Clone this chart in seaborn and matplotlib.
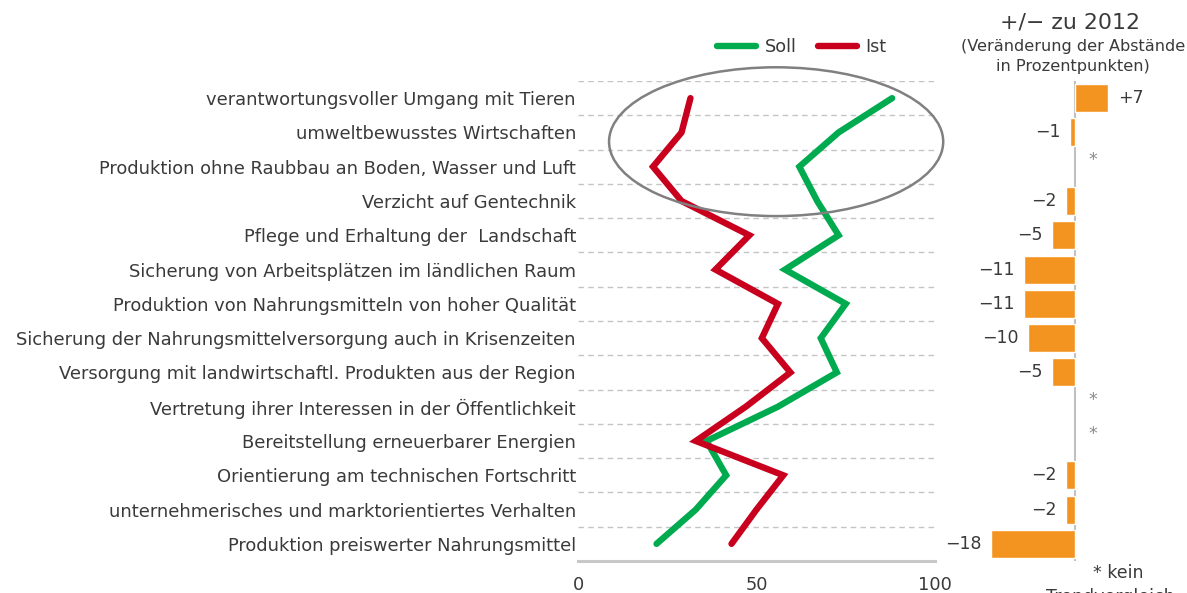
import numpy as np
import pandas as pd
import matplotlib
matplotlib.use("Agg")
import matplotlib.pyplot as plt
from matplotlib.patches import Ellipse
import seaborn as sns

categories = [
    "verantwortungsvoller Umgang mit Tieren",
    "umweltbewusstes Wirtschaften",
    "Produktion ohne Raubbau an Boden, Wasser und Luft",
    "Verzicht auf Gentechnik",
    "Pflege und Erhaltung der  Landschaft",
    "Sicherung von Arbeitsplätzen im ländlichen Raum",
    "Produktion von Nahrungsmitteln von hoher Qualität",
    "Sicherung der Nahrungsmittelversorgung auch in Krisenzeiten",
    "Versorgung mit landwirtschaftl. Produkten aus der Region",
    "Vertretung ihrer Interessen in der Öffentlichkeit",
    "Bereitstellung erneuerbarer Energien",
    "Orientierung am technischen Fortschritt",
    "unternehmerisches und marktorientiertes Verhalten",
    "Produktion preiswerter Nahrungsmittel",
]
soll = [88, 73, 62, 67, 73, 58, 75, 68, 72.5, 56, 36, 41.5, 33, 22]
ist = [31.5, 29, 21, 29, 48, 38.5, 56, 51.5, 59.5, 47, 33, 57.5, 50, 43]
change = [7, -1, np.nan, -2, -5, -11, -11, -10, -5, np.nan, np.nan, -2, -2, -18]
change_labels = ["+7", "\u22121", "*", "\u22122", "\u22125", "\u221211", "\u221211",
                 "\u221210", "\u22125", "*", "*", "\u22122", "\u22122", "\u221218"]
series_names = ["Soll", "Ist"]
xticks = [0, 50, 100]

GREEN = "#00AA4F"
RED = "#C8001E"
ORANGE = "#F39421"
TXT = "#3a3a3a"

sns.set_theme(style="white")
plt.rcParams["font.family"] = ["DejaVu Sans"]

W, H = 1187, 593
fig = plt.figure(figsize=(W / 100, H / 100), dpi=100)

def px_axes(x0, y0, x1, y1):
    return fig.add_axes([x0 / W, 1 - y1 / H, (x1 - x0) / W, (y1 - y0) / H])

n = len(categories)
pos = np.arange(n)

ax = px_axes(578, 81, 935, 561)
df = pd.DataFrame({
    "value": soll + ist,
    "pos": np.concatenate([pos, pos]),
    "series": [series_names[0]] * n + [series_names[1]] * n,
})
sns.lineplot(data=df, x="value", y="pos", hue="series", sort=False, estimator=None,
             palette={"Soll": GREEN, "Ist": RED}, linewidth=4.6, ax=ax,
             solid_capstyle="round", solid_joinstyle="miter")
ax.set_xlim(0, 100)
ax.set_ylim(n - 0.5, -0.5)
ax.set_yticks(pos)
ax.set_yticklabels(categories, fontsize=12.9, color=TXT)
ax.set_xticks(xticks)
ax.set_xticklabels([str(t) for t in xticks], fontsize=12.8, color=TXT)
ax.tick_params(axis="y", length=0, pad=1.5)
ax.tick_params(axis="x", length=0, pad=11)
ax.set_xlabel("")
ax.set_ylabel("")
for s in ["top", "right", "left"]:
    ax.spines[s].set_visible(False)
ax.spines["bottom"].set_color("#c8c8c8")
ax.spines["bottom"].set_linewidth(2.2)
for yb in np.arange(-0.5, n - 1, 1.0):
    ax.axhline(yb, color="#c4c4c4", lw=1.0, ls=(0, (4, 3)), zorder=0)

ell = Ellipse((55.5, 1.27), width=93.6, height=4.34, fill=False,
              edgecolor="#808080", lw=1.8, clip_on=False, zorder=5)
ax.add_patch(ell)

sns.move_legend(ax, "center", bbox_to_anchor=(802 / W, 1 - 47 / H),
                bbox_transform=fig.transFigure, ncol=2, frameon=False,
                title=None, fontsize=12.7, handlelength=2.2, handletextpad=0.5,
                columnspacing=1.2)
for t in ax.get_legend().get_texts():
    t.set_color(TXT)
for l in ax.get_legend().get_lines():
    l.set_linewidth(4.6)

# bar panel
ax2 = px_axes(981.6, 81, 1121.7, 561)
bdf = pd.DataFrame({"cat": categories, "change": change})
sns.barplot(data=bdf, x="change", y="cat", order=categories, color=ORANGE,
            saturation=1, width=0.82, ax=ax2, orient="h")
ax2.set_xlim(-20, 10)
ax2.set_ylim(n - 0.5, -0.5)
ax2.axis("off")
ax2.axvline(0, color="#c0c0c0", lw=1.5, zorder=0)
for i, (v, lab) in enumerate(zip(change, change_labels)):
    if np.isnan(v):
        ax2.text(3.8, i - 0.2, lab, ha="center", va="center", fontsize=12.5, color="#8a8a8a")
    elif v > 0:
        ax2.text(v + 2.2, i, lab, ha="left", va="center", fontsize=12.5, color=TXT)
    else:
        ax2.text(min(v, -1) - 2.0, i, lab, ha="right", va="center", fontsize=12.5, color=TXT)

fig.text(1070 / W, 1 - 22 / H, "+/\u2212 zu 2012", ha="center", va="center",
         fontsize=15.8, color=TXT)
fig.text(1073 / W, 1 - 46 / H, "(Veränderung der Abstände", ha="center", va="center",
         fontsize=11.6, color=TXT)
fig.text(1073 / W, 1 - 66 / H, "in Prozentpunkten)", ha="center", va="center",
         fontsize=11.6, color=TXT)
fig.text(1118 / W, 1 - 573 / H, "* kein", ha="center", va="center",
         fontsize=12.5, color=TXT)
fig.text(1110 / W, 1 - 597 / H, "Trendvergleich", ha="center", va="center",
         fontsize=12.5, color=TXT)

fig.savefig("out.png", dpi=100)
